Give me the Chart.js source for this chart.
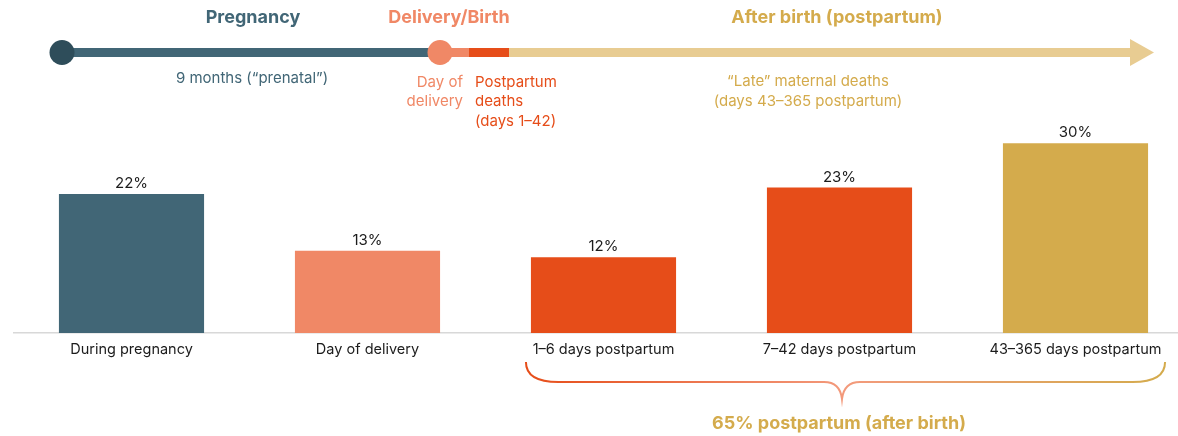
<!DOCTYPE html>
<html>
<head>
<meta charset="utf-8">
<script src="https://cdn.jsdelivr.net/npm/chart.js@4"></script>
<style>
  html, body { margin: 0; padding: 0; background: #fff; overflow: hidden; }
  #wrap { position: relative; width: 1178px; height: 436px; overflow: hidden; }
  #wrap canvas { position: absolute; left: 0; top: 0; }
</style>
</head>
<body>
<div id="wrap"><canvas id="deathsChart" width="1200" height="436"></canvas></div>
<script>
const categories = ['During pregnancy', 'Day of delivery', '1–6 days postpartum', '7–42 days postpartum', '43–365 days postpartum'];
const shares = [22, 13, 12, 23, 30];
const barColors = ['#416676', '#f08866', '#e64d19', '#e64d19', '#d4ab4c'];
const postpartumTotal = '65% postpartum (after birth)';

const FONT = 'Inter, "Noto Sans", sans-serif';
const BLUE = '#416676', SALMON = '#f08866', RED = '#e64d19', GOLD = '#d4ab4c', TAN = '#e8cc92';

// value labels on top of each bar
const valueLabels = {
  id: 'valueLabels',
  afterDatasetsDraw(chart) {
    const ctx = chart.ctx;
    const meta = chart.getDatasetMeta(0);
    ctx.save();
    ctx.font = '15px ' + FONT;
    ctx.fillStyle = '#1c1c1c';
    ctx.textAlign = 'center';
    ctx.textBaseline = 'bottom';
    meta.data.forEach((bar, i) => {
      ctx.fillText(shares[i] + '%', bar.x, bar.y - 3);
    });
    ctx.restore();
  }
};

// timeline at the top and brace under the postpartum bars
const annotations = {
  id: 'annotations',
  afterDraw(chart) {
    const ctx = chart.ctx;
    const meta = chart.getDatasetMeta(0);
    ctx.save();

    // headings
    ctx.font = 'bold 18px ' + FONT;
    ctx.textAlign = 'center';
    ctx.textBaseline = 'middle';
    ctx.fillStyle = BLUE; ctx.fillText('Pregnancy', 253, 18);
    ctx.fillStyle = SALMON; ctx.fillText('Delivery/Birth', 449, 18);
    ctx.fillStyle = GOLD; ctx.fillText('After birth (postpartum)', 837, 18);

    // timeline line
    const ly = 52.5, lw = 9;
    ctx.fillStyle = BLUE; ctx.fillRect(62, ly - lw / 2, 378, lw);
    ctx.fillStyle = SALMON; ctx.fillRect(440, ly - lw / 2, 29, lw);
    ctx.fillStyle = RED; ctx.fillRect(469, ly - lw / 2, 40, lw);
    ctx.fillStyle = TAN; ctx.fillRect(509, ly - lw / 2, 622, lw);
    ctx.beginPath();
    ctx.moveTo(1130, 39); ctx.lineTo(1154, ly); ctx.lineTo(1130, 66); ctx.closePath();
    ctx.fill();
    ctx.fillStyle = '#2e4d5a';
    ctx.beginPath(); ctx.arc(62, ly, 12.5, 0, Math.PI * 2); ctx.fill();
    ctx.fillStyle = SALMON;
    ctx.beginPath(); ctx.arc(440, ly, 12.5, 0, Math.PI * 2); ctx.fill();

    // timeline notes
    ctx.font = '15px ' + FONT;
    ctx.fillStyle = BLUE; ctx.fillText('9 months (“prenatal”)', 252, 78);
    ctx.fillStyle = GOLD;
    ctx.fillText('“Late” maternal deaths', 808, 81);
    ctx.fillText('(days 43–365 postpartum)', 808, 101);
    ctx.textAlign = 'right'; ctx.fillStyle = SALMON;
    ctx.fillText('Day of', 463, 82);
    ctx.fillText('delivery', 463, 101);
    ctx.textAlign = 'left'; ctx.fillStyle = RED;
    ctx.fillText('Postpartum', 475, 82);
    ctx.fillText('deaths', 475, 101);
    ctx.fillText('(days 1–42)', 475, 121);

    // brace
    const x0 = meta.data[2].x - meta.data[2].width / 2 - 5;
    const x1 = meta.data[4].x + meta.data[4].width / 2 + 17;
    const mid = 842;
    const top = 362, bar = 382, tip = 399, r = 18;
    const grad = ctx.createLinearGradient(x0, 0, x1, 0);
    grad.addColorStop(0, RED);
    grad.addColorStop(0.5, '#f39a7c');
    grad.addColorStop(1, GOLD);
    ctx.strokeStyle = grad;
    ctx.lineWidth = 2;
    ctx.beginPath();
    ctx.moveTo(x0, top);
    ctx.quadraticCurveTo(x0, bar, x0 + r * 1.8, bar);
    ctx.lineTo(mid - r, bar);
    ctx.quadraticCurveTo(mid - 2, bar, mid, tip);
    ctx.quadraticCurveTo(mid + 2, bar, mid + r, bar);
    ctx.lineTo(x1 - r * 1.8, bar);
    ctx.quadraticCurveTo(x1, bar, x1, top);
    ctx.stroke();

    ctx.font = 'bold 18px ' + FONT;
    ctx.textAlign = 'center';
    ctx.fillStyle = GOLD;
    ctx.fillText(postpartumTotal, 839, 424);
    ctx.restore();
  }
};

new Chart(document.getElementById('deathsChart').getContext('2d'), {
  type: 'bar',
  data: {
    labels: categories,
    datasets: [{
      data: shares,
      backgroundColor: barColors,
      barPercentage: 0.615,
      categoryPercentage: 1
    }]
  },
  options: {
    responsive: false,
    animation: false,
    layout: { padding: { left: 13.5, right: 6.5, top: 80, bottom: 77.5 } },
    plugins: { legend: { display: false }, tooltip: { enabled: false } },
    scales: {
      x: {
        grid: { display: false },
        border: { display: true, color: '#d8d8d8', width: 1.5 },
        ticks: { color: '#1c1c1c', font: { family: FONT, size: 14.5 }, padding: 0, maxRotation: 0 }
      },
      y: {
        display: false,
        min: 0,
        max: 40
      }
    }
  },
  plugins: [valueLabels, annotations]
});
</script>
</body>
</html>
